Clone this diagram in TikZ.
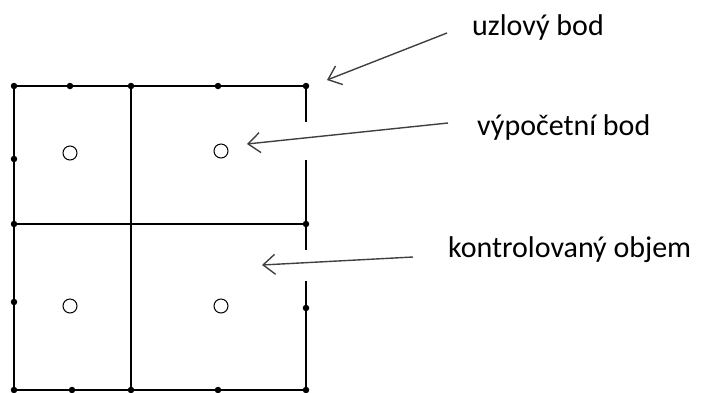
\documentclass[tikz,border=0pt]{standalone}
\usepackage{fontspec}
\setmainfont{Carlito}
\usetikzlibrary{arrows.meta}
\tikzset{GridPoint/.style={%
    shape=circle,%
    fill=black,%
    minimum size=6.5pt,%
    inner sep=0pt,%
}}
\tikzset{CalcPoint/.style={%
    shape=circle,%
    draw=black,%
    line width=1pt,%
    minimum size=14pt,%
    inner sep=0pt,%
}}
\tikzset{GridEdge/.style={%
    line width=2pt,%
}}
\tikzset{LabelArrow/.style={%
    -{Straight Barb[length=12pt,width=20pt]},%
    draw=black!75,%
    line width=1.4pt,%
}}
\tikzset{LabelText/.style={%
    anchor=base west,%
    inner sep=0pt,%
    font=\fontsize{30}{32}\selectfont,%
}}

\begin{document}
\begin{tikzpicture}[x=1pt, y=-1pt]
    \useasboundingbox (0,0) rectangle (701,392);

    % corner and edge points of the grid
    \node[GridPoint] (n00) at (14,86) {};
    \node[GridPoint] (t1) at (70,86) {};
    \node[GridPoint] (n01) at (131,86) {};
    \node[GridPoint] (t2) at (218,86) {};
    \node[GridPoint] (n02) at (306,86) {};
    \node[GridPoint] (l1) at (14,159) {};
    \node[GridPoint] (n10) at (14,224) {};
    \node[GridPoint] (l2) at (14,302) {};
    \node[GridPoint] (n20) at (14,390) {};
    \node[GridPoint] (b1) at (72,390) {};
    \node[GridPoint] (n21) at (131,390) {};
    \node[GridPoint] (b2) at (218,390) {};
    \node[GridPoint] (n22) at (306,390) {};
    \node[GridPoint] (n12) at (306,224) {};
    \node[GridPoint] (r2) at (306,308) {};
    \coordinate (n11) at (131,224);
    \coordinate (g1) at (306,122);
    \coordinate (g2) at (306,160);
    \coordinate (g3) at (306,250);
    \coordinate (g4) at (306,281);

    % cell centres
    \node[CalcPoint] (c00) at (70,153) {};
    \node[CalcPoint] (c01) at (221,151) {};
    \node[CalcPoint] (c10) at (70,306) {};
    \node[CalcPoint] (c11) at (221,306) {};

    \draw[GridEdge] (n00) -- (n01) -- (n02);
    \draw[GridEdge] (n00) -- (n10) -- (n20);
    \draw[GridEdge] (n20) -- (n21) -- (n22);
    \draw[GridEdge] (n01) -- (n11) -- (n21);
    \draw[GridEdge] (n10) -- (n11) -- (n12);
    \draw[GridEdge] (n02) -- (g1);
    \draw[GridEdge] (g2) -- (n12) -- (g3);
    \draw[GridEdge] (g4) -- (r2) -- (n22);

    % labels
    \node[LabelText] (uzel) at (472,35) {uzlový bod};
    \node[LabelText] (vypocet) at (477,135) {výpočetní bod};
    \node[LabelText] (objem) at (448,257) {kontrolovaný objem};

    \coordinate (a1) at (447,33);
    \coordinate (a2) at (448,123);
    \coordinate (a3) at (413,257);
    \coordinate (e1) at (327,80);
    \coordinate (e2) at (247,144);
    \coordinate (e3) at (262,265);

    \draw[LabelArrow] (a1) -- (e1);
    \draw[LabelArrow] (a2) -- (e2);
    \draw[LabelArrow] (a3) -- (e3);
\end{tikzpicture}
\end{document}
